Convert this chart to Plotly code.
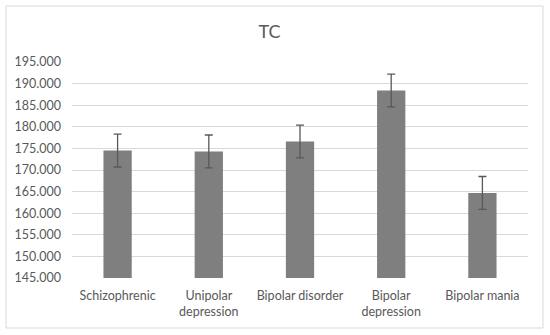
import plotly.graph_objects as go

categories = ["Schizophrenic", "Unipolar<br>depression", "Bipolar disorder", "Bipolar<br>depression", "Bipolar mania"]
values = [174.5, 174.3, 176.6, 188.4, 164.7]
errors = [3.8, 3.8, 3.8, 3.8, 3.8]
tick_vals = [145, 150, 155, 160, 165, 170, 175, 180, 185, 190, 195]
tick_text = ["%.3f" % v for v in tick_vals]

W, H = 550, 335
L, R, T, B = 72, 22, 62, 57
pw, ph = W - L - R, H - T - B

fig = go.Figure(go.Bar(
    x=categories, y=values,
    marker=dict(color="#7f7f7f", line=dict(width=0)),
    width=0.31,
    error_y=dict(type="data", array=errors, visible=True, color="#595959", thickness=1.3, width=4),
))

fig.update_layout(
    width=W, height=H,
    margin=dict(l=L, r=R, t=T, b=B),
    paper_bgcolor="white", plot_bgcolor="white",
    font=dict(family="Lato", size=12.5, color="#595959"),
    title=dict(text="TC", x=0.49, xanchor="center", y=1 - 32 / H, yanchor="middle",
               font=dict(family="Lato", size=18, color="#595959")),
    showlegend=False,
    xaxis=dict(showgrid=False, showline=False, ticks="", ticklabelstandoff=8,
               tickfont=dict(size=12.5, color="#595959")),
    yaxis=dict(range=[145, 195], tickvals=tick_vals, ticktext=tick_text,
               showgrid=True, gridcolor="#d9d9d9", gridwidth=1, zeroline=False,
               showline=False, ticks="", ticklabelstandoff=10,
               tickfont=dict(size=12.5, color="#595959")),
    shapes=[dict(type="rect", xref="paper", yref="paper",
                 x0=(6 - L) / pw, x1=(543 - L) / pw,
                 y0=(H - B - 328) / ph, y1=(H - B - 6) / ph,
                 line=dict(color="#d9d9d9", width=1), layer="below")],
)

fig.write_html("out.html", config={"displayModeBar": False},
               post_script="document.body.style.margin='0';")
